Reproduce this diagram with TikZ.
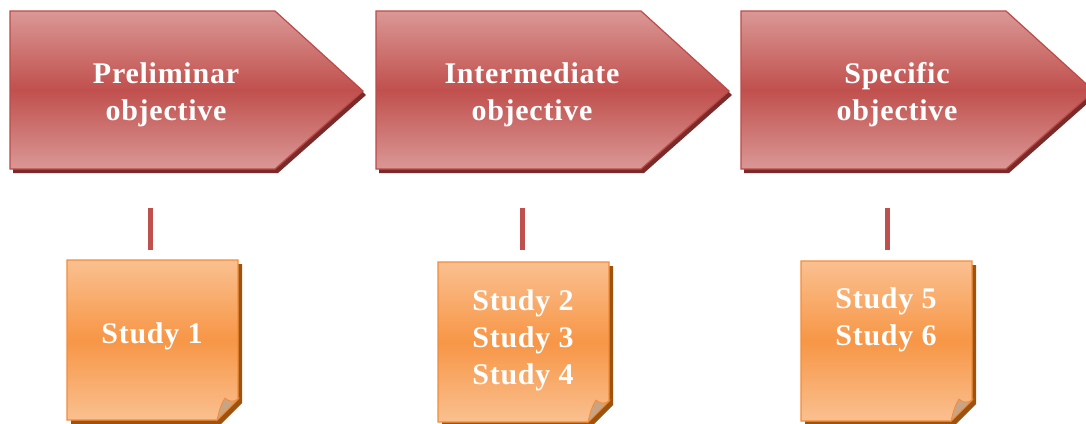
\documentclass[tikz,border=0pt]{standalone}
\usepackage{fontspec}
\setmainfont{Liberation Serif}
\newfontfamily\boxfont[LetterSpace=2.5]{Liberation Serif}
\definecolor{arrlight}{HTML}{DA9896}
\definecolor{arrmid}{HTML}{C0504D}
\definecolor{arrborder}{HTML}{BD4A47}
\definecolor{arrshadow}{HTML}{7A2B29}
\definecolor{notelight}{HTML}{FAC090}
\definecolor{notemid}{HTML}{F79646}
\definecolor{noteborder}{HTML}{F28C3A}
\definecolor{noteshadow}{HTML}{9E5210}
\definecolor{foldcol}{HTML}{C9A484}
\definecolor{linkcol}{HTML}{C0504D}
\begin{document}
\begin{tikzpicture}[x=1pt,y=-1pt,
  arrowshape/.style={top color=arrlight,bottom color=arrlight,middle color=arrmid,draw=arrborder,line width=1.2pt,line join=miter},
  arrowshadow/.style={fill=arrshadow},
  noteshape/.style={top color=notelight,bottom color=notelight,middle color=notemid,draw=noteborder,line width=1.2pt},
  noteshadow/.style={fill=noteshadow},
  foldshape/.style={fill=foldcol,draw=noteborder,line width=0.8pt},
  title/.style={text=white,font=\boxfont\bfseries\fontsize{30}{37}\selectfont,align=center},
  study/.style={text=white,font=\boxfont\bfseries\fontsize{30}{37}\selectfont,align=center},
  link/.style={draw=linkcol,line width=5pt}]
\useasboundingbox (0,0) rectangle (1086,423);
% arrows
\foreach \x in {10,376,741}{
  \fill[arrowshadow] (\x+3,14) -- (\x+268,14) -- (\x+356,95) -- (\x+268,173) -- (\x+3,173) -- cycle;
  \path[arrowshape] (\x,11) -- (\x+265,11) -- (\x+353,91) -- (\x+265,169) -- (\x,169) -- cycle;
}
% notes
\foreach \x/\y in {67/260,438/262,801/261}{
  \fill[noteshadow] (\x+4,\y+4) -- (\x+175,\y+4) -- (\x+175,\y+143) -- (\x+154,\y+164) -- (\x+4,\y+164) -- cycle;
  \path[noteshape] (\x,\y) -- (\x+171,\y) -- (\x+171,\y+139) -- (\x+150,\y+160) -- (\x,\y+160) -- cycle;
  \path[foldshape] (\x+150,\y+160) .. controls (\x+152,\y+151) and (\x+154,\y+144) .. (\x+158,\y+138)
     .. controls (\x+162,\y+142) and (\x+167,\y+142) .. (\x+171,\y+139) -- cycle;
}
% titles
\node[title] (a1) at (166,95) {Preliminar\\objective};
\node[title] (a2) at (532,95) {Intermediate\\objective};
\node[title] (a3) at (897,95) {Specific\\objective};
% studies
\node[study] (s1) at (152,336) {Study 1};
\node[study] (s2) at (523,340) {Study 2\\Study 3\\Study 4};
\node[study] (s3) at (886,320) {Study 5\\Study 6};
% connectors
\coordinate (t1) at (150,208); \coordinate (b1) at (150,250);
\coordinate (t2) at (522,208); \coordinate (b2) at (522,250);
\coordinate (t3) at (887,208); \coordinate (b3) at (887,250);
\draw[link] (t1) -- (b1);
\draw[link] (t2) -- (b2);
\draw[link] (t3) -- (b3);
\end{tikzpicture}
\end{document}
